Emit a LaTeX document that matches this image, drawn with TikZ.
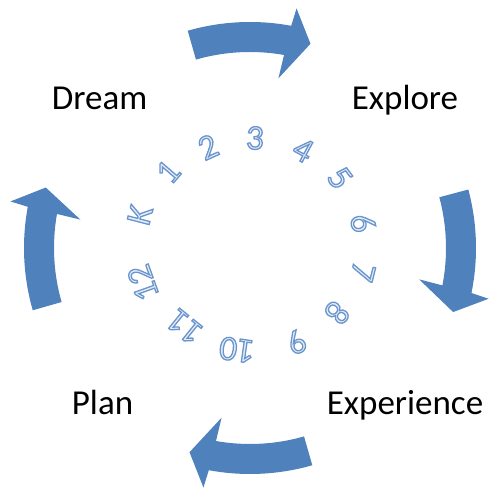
\documentclass[tikz,border=0pt]{standalone}
\usepackage{fontspec}
\setmainfont{Carlito}
\definecolor{arrowblue}{RGB}{79,129,189}
\definecolor{digitfill}{RGB}{228,237,248}
% outlined text: fill light, stroke medium blue
\newcommand\outlinedtext[1]{\textcolor{digitfill}{\special{pdf:literal direct 2 Tr 1.3 w 0.41 0.58 0.80 RG}#1\special{pdf:literal direct 0 Tr}}}
\begin{document}
\begin{tikzpicture}[x=1pt,y=1pt,
  biglabel/.style={font=\fontsize{35}{42}\selectfont, anchor=base west, inner sep=0pt, text=black},
  digit/.style={font=\fontsize{35}{42}\selectfont, inner sep=0pt},
  curvearrow/.pic={
    \fill[arrowblue] (106:226) arc[start angle=106,end angle=79.5,radius=226]
      -- (79:244) -- (73.5:213) -- (80.5:172) -- (80:196)
      arc[start angle=80,end angle=106,radius=196] -- cycle;}]
\useasboundingbox (0,0) rectangle (491,494);
\coordinate (C) at (250,246);
% four curved block arrows
\pic (atop) at (C) {curvearrow};
\pic[rotate=-91] (aright) at (C) {curvearrow};
\pic[rotate=-180] (abottom) at (C) {curvearrow};
\pic[rotate=90] (aleft) at (C) {curvearrow};
% labels
\node[biglabel] (dream) at (51.7,384.7) {Dream};
\node[biglabel] (explore) at (351.7,384.7) {Explore};
\node[biglabel] (plan) at (71.7,79) {Plan};
\node[biglabel] (experience) at (326.7,79) {Experience};
% circular grade text
\begin{scope}[shift={(252,250)}]
\foreach \t/\a/\r [count=\i] in {K/165.5/115.7, 1/139.4/110.6, 2/114.4/106.5,
  3/88.4/106, 4/61.5/107, 5/36.9/110, 6/10.7/113, 7/-14.2/114.5, 8/-39/109.5,
  9/-65.3/107.8, 10/-98/107, 11/-128.9/106.7, 12/-160.3/115.8}
  \node[digit, rotate=\a-90] (g\i) at (\a:\r) {\outlinedtext{\t}};
\end{scope}
\end{tikzpicture}
\end{document}
